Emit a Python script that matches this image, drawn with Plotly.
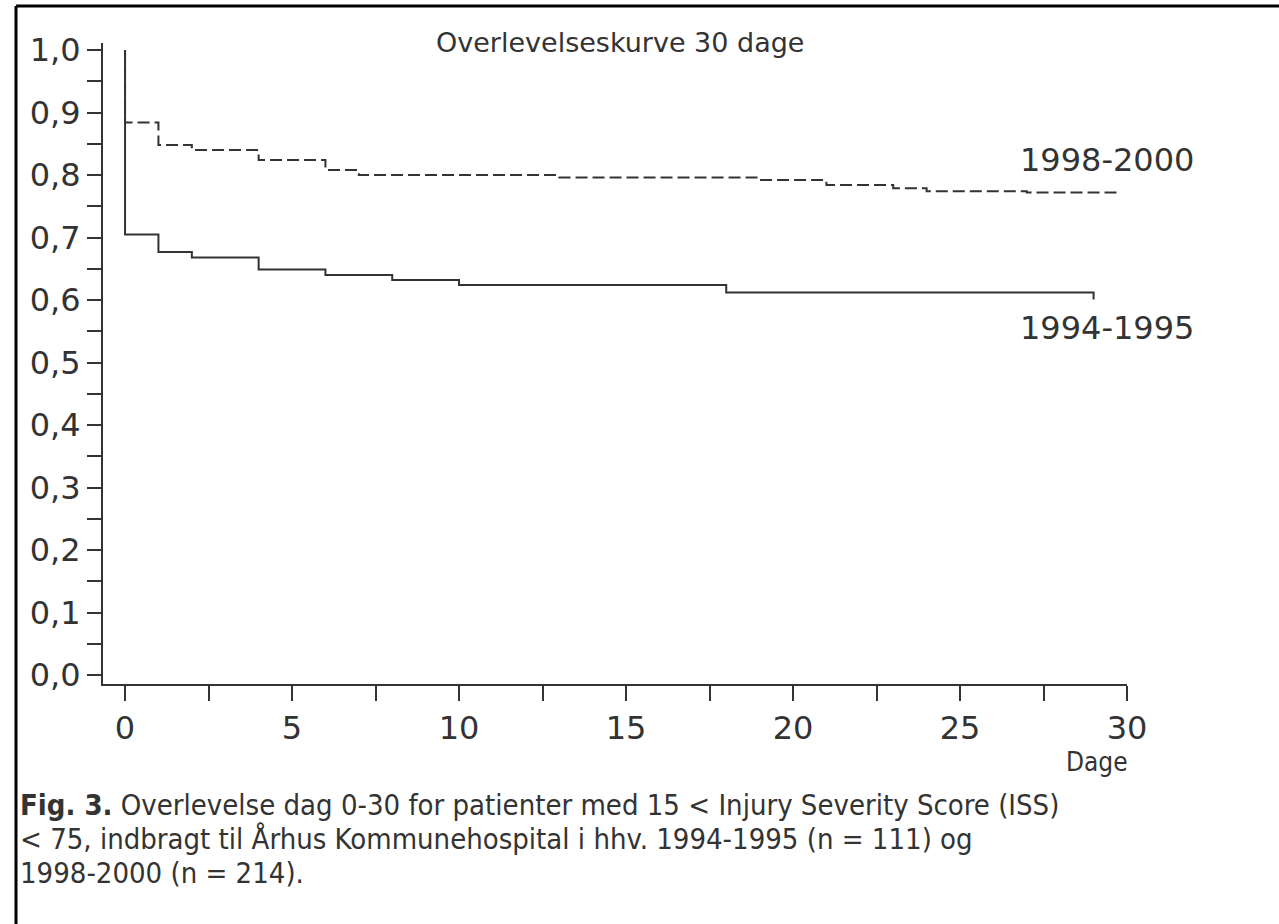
import plotly.graph_objects as go

# ---- data ----
days_1994 = [0, 0, 1, 2, 4, 6, 8, 10, 18, 29]
surv_1994 = [1.0, 0.705, 0.677, 0.668, 0.649, 0.640, 0.632, 0.624, 0.612, 0.601]

days_1998 = [0, 0, 1, 2, 4, 6, 7, 13, 19, 21, 23, 24, 27, 29.8]
surv_1998 = [1.0, 0.884, 0.848, 0.840, 0.824, 0.808, 0.800, 0.796, 0.792, 0.784, 0.779, 0.774, 0.772, 0.772]

x_tickvals = [0, 2.5, 5, 7.5, 10, 12.5, 15, 17.5, 20, 22.5, 25, 27.5, 30]
x_ticktext = ["0", "", "5", "", "10", "", "15", "", "20", "", "25", "", "30"]
y_tickvals = [i * 0.05 for i in range(21)]
y_ticktext = [("%.1f" % v).replace(".", ",") if i % 2 == 0 else "" for i, v in enumerate(y_tickvals)]

title_text = "Overlevelseskurve 30 dage"
label_1998 = "1998-2000"
label_1994 = "1994-1995"
x_title = "Dage"
caption_lines = [
    "<b>Fig. 3.</b> Overlevelse dag 0-30 for patienter med 15 &lt; Injury Severity Score (ISS)",
    "&lt; 75, indbragt til Århus Kommunehospital i hhv. 1994-1995 (n = 111) og",
    "1998-2000 (n = 214).",
]

# ---- layout geometry (pixels) ----
W, H = 1279, 924
L, T = 103, 43
R = W - 1127
B = H - 684
PW, PH = W - L - R, H - T - B


def px(xp):
    return (xp - L) / PW


def py(yp):
    return (H - B - yp) / PH


ink = "#333333"
axis_font = dict(family="DejaVu Sans, Verdana, sans-serif", size=32, color=ink)
narrow = "DejaVu Sans Condensed, Liberation Sans Narrow, sans-serif"

fig = go.Figure()
fig.add_trace(go.Scatter(x=days_1998, y=surv_1998, mode="lines", line_shape="hv",
                         line=dict(color=ink, width=2, dash="12px,5px"),
                         showlegend=False, hoverinfo="skip"))
fig.add_trace(go.Scatter(x=days_1994, y=surv_1994, mode="lines", line_shape="hv",
                         line=dict(color=ink, width=2),
                         showlegend=False, hoverinfo="skip"))

fig.update_layout(
    width=W, height=H,
    margin=dict(l=L, r=R, t=T, b=B, pad=0),
    paper_bgcolor="white", plot_bgcolor="white",
    showlegend=False,
)
fig.update_xaxes(range=[-0.66, 30], tickvals=x_tickvals, ticktext=x_ticktext,
                 ticks="outside", ticklen=15, tickwidth=2, tickcolor=ink,
                 showline=True, linecolor=ink, linewidth=2,
                 showgrid=False, zeroline=False, tickfont=axis_font)
fig.update_yaxes(range=[-0.0144, 1.0112], tickvals=y_tickvals, ticktext=y_ticktext,
                 ticks="outside", ticklen=14, tickwidth=2, tickcolor=ink,
                 showline=True, linecolor=ink, linewidth=2,
                 showgrid=False, zeroline=False, tickfont=axis_font)

ann = []
ann.append(dict(text=title_text, xref="paper", yref="paper", x=px(620), y=py(42),
                xanchor="center", yanchor="middle", showarrow=False,
                font=dict(family="DejaVu Sans, Verdana, sans-serif", size=27, color=ink)))
ann.append(dict(text=label_1998, xref="x", yref="y", x=29.4, y=0.824,
                xanchor="center", yanchor="middle", showarrow=False, font=axis_font))
ann.append(dict(text=label_1994, xref="x", yref="y", x=29.4, y=0.555,
                xanchor="center", yanchor="middle", showarrow=False, font=axis_font))
ann.append(dict(text=x_title, xref="paper", yref="paper", x=px(1130), y=py(762),
                xanchor="right", yanchor="middle", showarrow=False,
                font=dict(family=narrow, size=26, color=ink)))
for line, yc in zip(caption_lines, [805, 839, 873]):
    ann.append(dict(text=line, xref="paper", yref="paper", x=px(19), y=py(yc),
                    xanchor="left", yanchor="middle", showarrow=False, borderpad=0,
                    font=dict(family=narrow, size=29, color=ink)))
fig.update_layout(annotations=ann)

# frame lines (left and top edges of the cropped figure box)
fig.add_shape(type="line", xref="paper", yref="paper", x0=px(16), x1=px(16), y0=py(6), y1=py(930),
              line=dict(color="black", width=3))
fig.add_shape(type="line", xref="paper", yref="paper", x0=px(16), x1=px(1290), y0=py(6), y1=py(6),
              line=dict(color="black", width=3))

fig.write_html("out.html", config={"displayModeBar": False},
               post_script="document.body.style.margin='0';")
